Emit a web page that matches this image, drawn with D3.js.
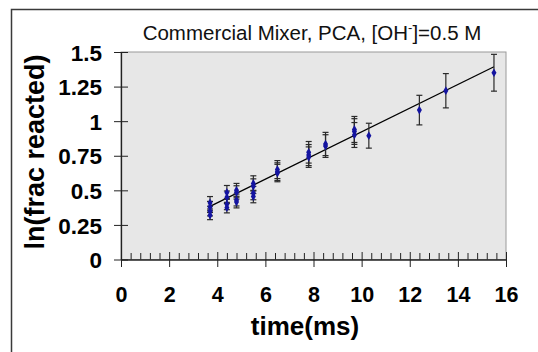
<!DOCTYPE html>
<html>
<head>
<meta charset="utf-8">
<script src="https://cdn.jsdelivr.net/npm/d3@7/dist/d3.min.js"></script>
<style>
  html, body { margin: 0; padding: 0; background: #fff; }
  svg { display: block; font-family: "Liberation Sans", Arial, sans-serif; }
</style>
</head>
<body>
<div id="chart"></div>
<script>
// time (ms) of each measurement
const time = [
  3.7, 3.7, 3.7, 3.7,
  4.4, 4.4, 4.4, 4.4,
  4.8, 4.8, 4.8, 4.8,
  5.5, 5.5, 5.5, 5.5,
  6.5, 6.5, 6.5,
  7.8, 7.8, 7.8,
  8.5, 8.5,
  9.7, 9.7, 9.7,
  10.3, 12.4, 13.5, 15.5
];
// ln(frac reacted)
const lnFrac = [
  0.41, 0.38, 0.35, 0.32,
  0.485, 0.45, 0.40, 0.375,
  0.50, 0.485, 0.43, 0.415,
  0.55, 0.53, 0.48, 0.455,
  0.65, 0.635, 0.625,
  0.775, 0.755, 0.74,
  0.835, 0.82,
  0.94, 0.925, 0.90,
  0.895, 1.08, 1.22, 1.35
];
// +/- error bar half heights
const errBar = [
  0.045, 0.04, 0.035, 0.032,
  0.05, 0.045, 0.04, 0.038,
  0.05, 0.048, 0.043, 0.042,
  0.055, 0.053, 0.048, 0.045,
  0.065, 0.064, 0.063,
  0.078, 0.076, 0.074,
  0.084, 0.082,
  0.094, 0.093, 0.09,
  0.09, 0.107, 0.124, 0.133
];
// linear fit shown on the chart
const fitSlope = 0.0855;
const fitIntercept = 0.068;

const xTicks = [0, 2, 4, 6, 8, 10, 12, 14, 16];
const yTicks = [0, 0.25, 0.5, 0.75, 1, 1.25, 1.5];
const yTickLabels = ['0', '0.25', '0.5', '0.75', '1', '1.25', '1.5'];

const W = 538, H = 352;
const plot = { left: 121, right: 506, top: 52, bottom: 259.5 };

const svg = d3.select('#chart').append('svg')
  .attr('width', W)
  .attr('height', H);

// outer frame (runs off the right / bottom of the picture)
svg.append('rect')
  .attr('x', 11.5).attr('y', 9.5)
  .attr('width', 560).attr('height', 370)
  .attr('fill', 'none')
  .attr('stroke', '#3a3a3a')
  .attr('stroke-width', 1.5);

const x = d3.scaleLinear().domain([0, 16]).range([plot.left, plot.right]);
const y = d3.scaleLinear().domain([0, 1.5]).range([plot.bottom, plot.top]);

// plot background + light border
svg.append('rect')
  .attr('x', plot.left).attr('y', plot.top)
  .attr('width', plot.right - plot.left)
  .attr('height', plot.bottom - plot.top)
  .attr('fill', '#e7e7e7')
  .attr('stroke', '#9a9a9a')
  .attr('stroke-width', 1);

// title
const title = svg.append('text')
  .attr('x', 312).attr('y', 40)
  .attr('text-anchor', 'middle')
  .attr('font-size', 20.5)
  .attr('fill', '#111');
title.append('tspan').text('Commercial Mixer, PCA, [OH');
title.append('tspan').attr('dy', -8).attr('font-size', 13).text('-');
title.append('tspan').attr('dy', 8).text(']=0.5 M');

// x minor ticks (inside)
const minor = d3.range(0, 16.001, 0.4).filter(v => Math.abs(v / 2 - Math.round(v / 2)) > 0.01);
svg.append('g')
  .attr('transform', 'translate(0,' + plot.bottom + ')')
  .call(d3.axisBottom(x).tickValues(minor).tickSizeInner(-6.5).tickSizeOuter(0).tickFormat(''))
  .call(g => g.select('.domain').remove())
  .call(g => g.selectAll('.tick line').attr('stroke', '#222'));

// x axis
const xAxis = svg.append('g')
  .attr('transform', 'translate(0,' + plot.bottom + ')')
  .call(d3.axisBottom(x).tickValues(xTicks).tickSizeInner(7.5).tickSizeOuter(0).tickFormat(d3.format('d')));
xAxis.select('.domain').attr('stroke', '#222').attr('stroke-width', 1.3);
xAxis.selectAll('.tick line').attr('y1', -7.5).attr('stroke', '#222');
xAxis.selectAll('.tick text')
  .attr('y', 42).attr('dy', 0)
  .attr('font-size', 21.5).attr('font-weight', 'bold')
  .attr('font-family', '"Liberation Sans", Arial, sans-serif')
  .attr('fill', '#000');

// y axis
const yAxis = svg.append('g')
  .attr('transform', 'translate(' + plot.left + ',0)')
  .call(d3.axisLeft(y).tickValues(yTicks).tickSizeInner(7).tickSizeOuter(0)
    .tickPadding(12).tickFormat((d, i) => yTickLabels[i]));
yAxis.select('.domain').attr('stroke', '#222').attr('stroke-width', 1.3);
yAxis.selectAll('.tick line').attr('x1', 7).attr('stroke', '#222');
yAxis.selectAll('.tick text')
  .attr('font-size', 22.5).attr('font-weight', 'bold')
  .attr('font-family', '"Liberation Sans", Arial, sans-serif')
  .attr('dy', '0.36em')
  .attr('fill', '#000');

// axis titles
svg.append('text')
  .attr('x', 305).attr('y', 335)
  .attr('text-anchor', 'middle')
  .attr('font-size', 26).attr('font-weight', 'bold')
  .text('time(ms)');

svg.append('text')
  .attr('transform', 'translate(44,152) rotate(-90)')
  .attr('text-anchor', 'middle')
  .attr('font-size', 27).attr('font-weight', 'bold')
  .text('ln(frac reacted)');

const data = time.map((t, i) => ({ t: t, v: lnFrac[i], e: errBar[i] }));

// fit line
const tMin = d3.min(time), tMax = d3.max(time);
svg.append('line')
  .attr('x1', x(tMin)).attr('y1', y(fitIntercept + fitSlope * tMin))
  .attr('x2', x(tMax)).attr('y2', y(fitIntercept + fitSlope * tMax))
  .attr('stroke', '#000')
  .attr('stroke-width', 1.3);

// error bars
const eb = svg.append('g').attr('stroke', '#2a2a2a').attr('stroke-width', 1.2);
data.forEach(d => {
  eb.append('line')
    .attr('x1', x(d.t)).attr('x2', x(d.t))
    .attr('y1', y(d.v - d.e)).attr('y2', y(d.v + d.e));
  [d.v - d.e, d.v + d.e].forEach(c => {
    eb.append('line')
      .attr('x1', x(d.t) - 3).attr('x2', x(d.t) + 3)
      .attr('y1', y(c)).attr('y2', y(c));
  });
});

// markers
svg.append('g').selectAll('path')
  .data(data)
  .enter().append('path')
  .attr('transform', d => 'translate(' + x(d.t) + ',' + y(d.v) + ')')
  .attr('d', d3.symbol().type(d3.symbolDiamond).size(22))
  .attr('fill', '#1414a0');
</script>
</body>
</html>
